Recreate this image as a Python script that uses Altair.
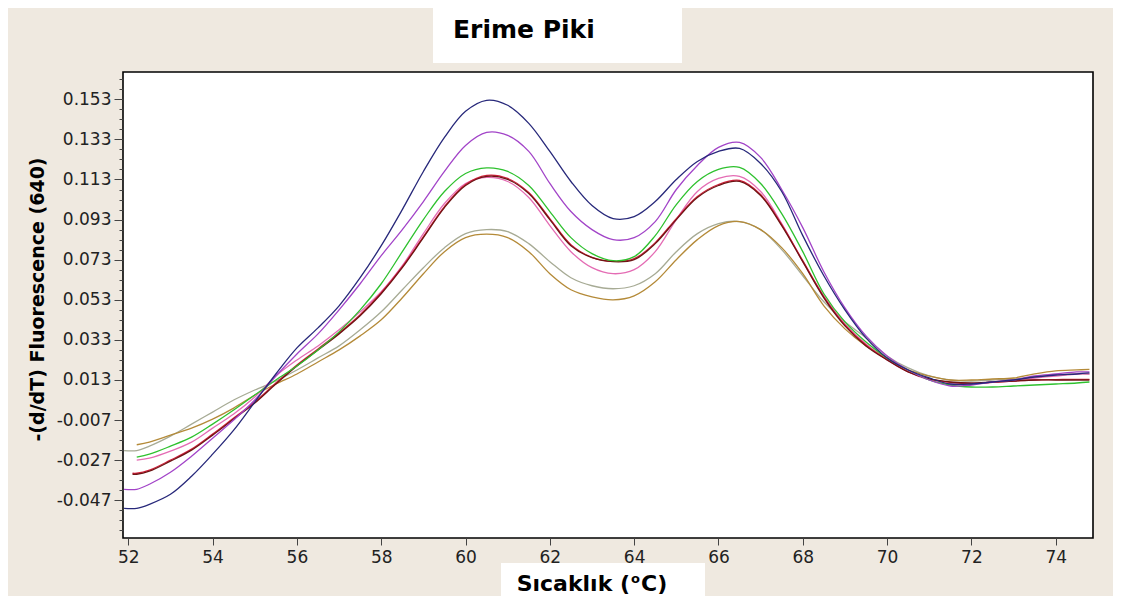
import altair as alt
import pandas as pd

# ---------------- data ----------------
temps = [52.2, 52.5, 53.0, 53.5, 54.0, 54.5, 55.0, 55.5, 56.0, 56.5, 57.0, 57.5,
         58.0, 58.5, 59.0, 59.5, 60.0, 60.5, 61.0, 61.5, 62.0, 62.5, 63.0, 63.5,
         64.0, 64.5, 65.0, 65.5, 66.0, 66.5, 67.0, 67.5, 68.0, 68.5, 69.0, 69.5,
         70.0, 70.5, 71.0, 71.5, 72.0, 72.5, 73.0, 73.5, 74.0, 74.5, 74.8]

navy = [-0.051, -0.049, -0.044, -0.035, -0.024, -0.012, 0.002, 0.016, 0.029, 0.039,
        0.050, 0.064, 0.080, 0.098, 0.117, 0.134, 0.147, 0.1525, 0.150, 0.141,
        0.127, 0.112, 0.100, 0.0935, 0.0945, 0.102, 0.113, 0.122, 0.127, 0.1285,
        0.121, 0.107, 0.085, 0.065, 0.048, 0.034, 0.024, 0.018, 0.014, 0.011,
        0.011, 0.012, 0.013, 0.0145, 0.0155, 0.016, 0.0165]
purple = [-0.0415, -0.039, -0.033, -0.025, -0.016, -0.007, 0.003, 0.015, 0.026, 0.036,
          0.048, 0.061, 0.075, 0.088, 0.102, 0.117, 0.130, 0.1365, 0.135, 0.127,
          0.111, 0.097, 0.088, 0.083, 0.084, 0.092, 0.108, 0.120, 0.129, 0.1315,
          0.124, 0.108, 0.089, 0.067, 0.049, 0.035, 0.025, 0.018, 0.013, 0.010,
          0.0105, 0.012, 0.013, 0.015, 0.016, 0.017, 0.017]
green = [-0.0255, -0.024, -0.020, -0.0155, -0.009, -0.002, 0.0055, 0.013, 0.020, 0.028,
         0.037, 0.048, 0.061, 0.077, 0.093, 0.107, 0.116, 0.1188, 0.117, 0.110,
         0.097, 0.084, 0.076, 0.0725, 0.0745, 0.085, 0.1005, 0.112, 0.118, 0.119,
         0.111, 0.096, 0.077, 0.056, 0.042, 0.032, 0.024, 0.018, 0.013, 0.0105,
         0.0095, 0.0095, 0.010, 0.0105, 0.011, 0.0115, 0.012]
pink = [-0.027, -0.026, -0.0225, -0.018, -0.011, -0.004, 0.0045, 0.015, 0.023, 0.030,
        0.038, 0.047, 0.057, 0.070, 0.086, 0.101, 0.111, 0.114, 0.112, 0.104,
        0.090, 0.077, 0.069, 0.066, 0.068, 0.077, 0.093, 0.107, 0.1135, 0.1145,
        0.107, 0.091, 0.072, 0.055, 0.041, 0.031, 0.023, 0.017, 0.013, 0.011,
        0.011, 0.012, 0.013, 0.014, 0.015, 0.016, 0.016]
maroon = [-0.034, -0.0325, -0.0275, -0.022, -0.0145, -0.0065, 0.0015, 0.011, 0.020, 0.028,
          0.036, 0.045, 0.056, 0.069, 0.084, 0.099, 0.110, 0.1145, 0.113, 0.106,
          0.093, 0.080, 0.074, 0.072, 0.073, 0.081, 0.093, 0.104, 0.110, 0.112,
          0.105, 0.090, 0.072, 0.054, 0.040, 0.030, 0.023, 0.017, 0.0135, 0.012,
          0.0115, 0.012, 0.0125, 0.013, 0.013, 0.013, 0.013]
red = [-0.0335, -0.032, -0.027, -0.0215, -0.014, -0.006, 0.002, 0.0115, 0.0205, 0.0285,
       0.0365, 0.0455, 0.0565, 0.0695, 0.0845, 0.0995, 0.1105, 0.115, 0.1135, 0.1065,
       0.0935, 0.0805, 0.0742, 0.0722, 0.0735, 0.0815, 0.0935, 0.1045, 0.1105, 0.1125,
       0.1055, 0.0905, 0.0725, 0.0545, 0.0405, 0.0305, 0.0232, 0.0172, 0.0135, 0.0118,
       0.0112, 0.0118, 0.0125, 0.013, 0.0132, 0.0133, 0.0133]
gray = [-0.0222, -0.020, -0.015, -0.009, -0.003, 0.003, 0.008, 0.0125, 0.018, 0.024,
        0.030, 0.038, 0.047, 0.058, 0.069, 0.079, 0.086, 0.088, 0.087, 0.081,
        0.072, 0.064, 0.060, 0.0585, 0.060, 0.066, 0.077, 0.086, 0.091, 0.092,
        0.088, 0.078, 0.065, 0.052, 0.042, 0.034, 0.025, 0.019, 0.015, 0.013,
        0.0125, 0.013, 0.0135, 0.0145, 0.0155, 0.016, 0.016]
brown = [-0.0193, -0.018, -0.0145, -0.011, -0.0065, -0.001, 0.0055, 0.011, 0.016, 0.022,
         0.028, 0.035, 0.043, 0.054, 0.066, 0.077, 0.084, 0.0857, 0.084, 0.077,
         0.066, 0.058, 0.0545, 0.053, 0.055, 0.062, 0.073, 0.083, 0.090, 0.092,
         0.088, 0.079, 0.066, 0.050, 0.0385, 0.030, 0.024, 0.018, 0.015, 0.013,
         0.013, 0.0135, 0.014, 0.016, 0.0175, 0.018, 0.0183]

series_names = ["Örnek 1", "Örnek 2", "Örnek 3", "Örnek 4", "Örnek 5", "Örnek 6", "Örnek 7", "Örnek 8"]
series_values = [gray, brown, pink, red, maroon, green, purple, navy]
series_colors = ["#A7AB95", "#B48A38", "#E46CB4", "#D4213D", "#6E1414", "#2EC12E", "#A244C8", "#27287A"]
# first temperature of each trace (some traces begin right at the plot's left edge)
series_start = [51.9, 52.2, 52.2, 52.1, 52.1, 52.2, 51.9, 51.9]

x_ticks = [52, 54, 56, 58, 60, 62, 64, 66, 68, 70, 72, 74]
y_major = [-0.047, -0.027, -0.007, 0.013, 0.033, 0.053, 0.073, 0.093, 0.113, 0.133, 0.153]
y_ticks = [round(-0.062 + 0.005 * i, 3) for i in range(46)]

title_text = "Erime Piki"
x_title_a = "Sıcaklık ("
x_title_sup = "o"
x_title_b = "C)"
y_title = "-(d/dT) Fluorescence (640)"

# ---------------- table ----------------
rows = []
for name, vals, start in zip(series_names, series_values, series_start):
    if start < temps[0]:
        rows.append({"T": start, "v": vals[0], "seri": name})
    for t, v in zip(temps, vals):
        rows.append({"T": t, "v": v, "seri": name})
df = pd.DataFrame(rows)

W, H = 970, 466
FONT = "DejaVu Sans"

is_major = "abs((datum.value + 0.047) / 0.02 - round((datum.value + 0.047) / 0.02)) < 0.01"

x_axis = alt.Axis(values=x_ticks, format="d", title=None, grid=False, domain=False,
                  tickSize=7, tickColor="#444", labelFont=FONT, labelFontSize=17,
                  labelColor="#222", labelPadding=4)
y_axis = alt.Axis(values=y_ticks, title=y_title, grid=False, domain=False,
                  labelExpr=is_major + " ? replace(format(datum.value, '.3f'), '\u2212', '-') : ''",
                  labelOverlap=False,
                  tickSize={"condition": {"test": is_major, "value": 9}, "value": 4},
                  tickColor="#444", labelFont=FONT, labelFontSize=17, labelColor="#222",
                  labelPadding=3,
                  titleFont=FONT, titleFontSize=19, titleFontWeight="bold", titleColor="#000",
                  titleAngle=-90, titleX=-86, titleY=227, titleAlign="center",
                  titleBaseline="middle")

lines = alt.Chart(df).mark_line(strokeWidth=1.3, interpolate="catmull-rom", clip=True).encode(
    x=alt.X("T:Q", scale=alt.Scale(domain=[51.874, 74.885], nice=False, zero=False), axis=x_axis),
    y=alt.Y("v:Q", scale=alt.Scale(domain=[-0.0658, 0.1666], nice=False, zero=False), axis=y_axis),
    color=alt.Color("seri:N", scale=alt.Scale(domain=series_names, range=series_colors), legend=None),
)

one = pd.DataFrame({"k": [0]})

title_box = alt.Chart(one).mark_rect(color="white").encode(
    x=alt.value(310), x2=alt.value(559), y=alt.value(-69), y2=alt.value(-9))
title_txt = alt.Chart(pd.DataFrame({"t": [title_text]})).mark_text(
    font=FONT, fontSize=25, fontWeight="bold", color="#000", align="left", baseline="alphabetic"
).encode(text="t:N", x=alt.value(330), y=alt.value(-34))

xlab_box = alt.Chart(one).mark_rect(color="white").encode(
    x=alt.value(378), x2=alt.value(582), y=alt.value(491), y2=alt.value(526))
xlab_a = alt.Chart(pd.DataFrame({"t": [x_title_a]})).mark_text(
    font=FONT, fontSize=22, fontWeight="bold", color="#000", align="right", baseline="alphabetic"
).encode(text="t:N", x=alt.value(507), y=alt.value(519))
xlab_sup = alt.Chart(pd.DataFrame({"t": [x_title_sup]})).mark_text(
    font=FONT, fontSize=13, fontWeight="bold", color="#000", align="left", baseline="alphabetic"
).encode(text="t:N", x=alt.value(508), y=alt.value(511))
xlab_b = alt.Chart(pd.DataFrame({"t": [x_title_b]})).mark_text(
    font=FONT, fontSize=22, fontWeight="bold", color="#000", align="left", baseline="alphabetic"
).encode(text="t:N", x=alt.value(518), y=alt.value(519))

chart = alt.layer(lines, title_box, title_txt, xlab_box, xlab_a, xlab_sup, xlab_b).properties(
    width=W, height=H, autosize="none",
    padding={"left": 115, "top": 64, "right": 20, "bottom": 58},
).configure(background="#EFE9E0").configure_view(stroke="#000", strokeWidth=1.6, fill="white")

chart.save("out.html", embed_options={"renderer": "svg", "actions": False})
